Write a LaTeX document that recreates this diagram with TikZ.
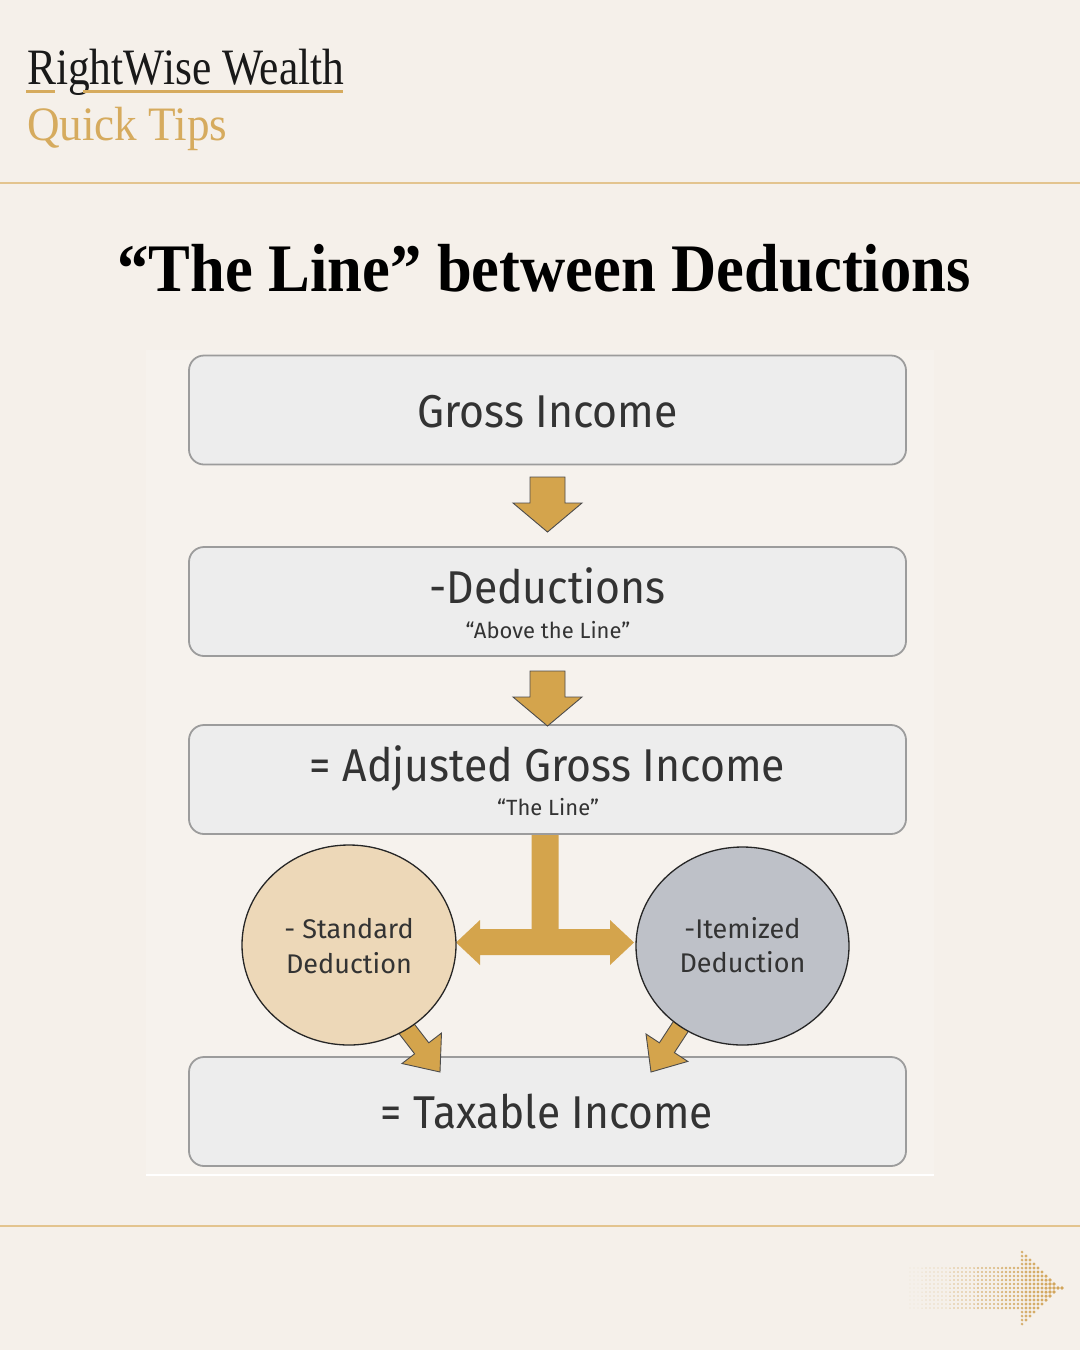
\documentclass[tikz,border=0pt]{standalone}
\usepackage{fontspec}
\setmainfont{Liberation Serif}
\newfontfamily\boxfont{Fira Sans}
\usetikzlibrary{shapes.geometric}
\definecolor{bg}{HTML}{F5F0EA}
\definecolor{panel}{HTML}{F6F2ED}
\definecolor{gold}{HTML}{D4A44C}
\definecolor{logogold}{HTML}{D6AB5E}
\definecolor{sepgold}{HTML}{E3C48F}
\definecolor{boxfill}{HTML}{EDEDED}
\definecolor{boxline}{HTML}{9C9C9C}
\definecolor{ink}{HTML}{333333}
\definecolor{stdfill}{HTML}{EDD8B8}
\definecolor{itmfill}{HTML}{BEC1C8}
\definecolor{dotc}{HTML}{D2A55A}
\begin{document}
\begin{tikzpicture}[x=1pt,y=-1pt,
  flowbox/.style={draw=boxline, line width=1.8pt, fill=boxfill, rounded corners=15pt,
    minimum width=717pt, minimum height=109pt, inner sep=0pt},
  bigtxt/.style={text=ink, inner sep=0pt, anchor=base, xscale=0.93, font=\boxfont\fontsize{46}{50}\selectfont},
  smalltxt/.style={text=ink, inner sep=0pt, anchor=base, font=\boxfont\fontsize{22}{26}\selectfont},
  circtxt/.style={text=ink, inner sep=0pt, anchor=base, font=\boxfont\fontsize{27}{31}\selectfont},
  bubble/.style={ellipse, draw=black!85, line width=1.3pt, inner sep=0pt},
  goldarrow/.style={fill=gold, draw=black!70, line width=0.9pt, line join=miter},
  sepline/.style={draw=sepgold, line width=1.5pt}]
\useasboundingbox (0,0) rectangle (1080,1350);
\fill[bg] (0,0) rectangle (1080,1350);
\fill[panel] (146,350) rectangle (934,1175);
\draw[white, line width=1.5pt] (146,1175) -- (934,1175);

% header
\node[anchor=base west, inner sep=0pt, xscale=0.852, text=black!90, font=\fontsize{51}{55}\selectfont] (brand) at (27,84) {RightWise Wealth};
\draw[logogold, line width=3pt] (26,91.5) -- (55,91.5) (83,91.5) -- (343,91.5);
\node[anchor=base west, inner sep=0pt, xscale=0.94, text=logogold, font=\fontsize{48}{52}\selectfont] (tips) at (27,140) {Quick Tips};
\draw[sepline] (0,183) -- (1080,183);
\draw[sepline] (0,1226) -- (1080,1226);

% title
\node[anchor=base, inner sep=0pt, xscale=0.92, text=black, font=\bfseries\fontsize{68}{72}\selectfont] (title) at (544,291) {“The Line” between Deductions};

% boxes
\node[flowbox] (gross) at (547.5,410) {};
\node[flowbox] (ded) at (547.5,601.5) {};
\node[flowbox] (agi) at (547.5,779.5) {};
\node[flowbox] (tax) at (547.5,1111.5) {};

\node[bigtxt] (t1) at (547.5,427) {Gross Income};
\node[bigtxt] (t2) at (547.5,603) {-Deductions};
\node[smalltxt] (t2b) at (548,638) {“Above the Line”};
\node[bigtxt] (t3) at (547.5,781) {= Adjusted Gross Income};
\node[smalltxt] (t3b) at (548,815) {“The Line”};
\node[bigtxt, xscale=0.995] (t4) at (547,1128) {= Taxable Income};

% down arrows
\path[goldarrow] (530,477) -- (565,477) -- (565,503) -- (582,503) -- (547.5,532) -- (513,503) -- (530,503) -- cycle;
\path[goldarrow] (530,671) -- (565,671) -- (565,697) -- (582,697) -- (547.5,726) -- (513,697) -- (530,697) -- cycle;

% T connector
\fill[gold] (531.5,835) -- (558.5,835) -- (558.5,929) -- (610,929) -- (610,920) -- (634,942.5) -- (610,965) -- (610,955) -- (480,955) -- (480,965) -- (456,942.5) -- (480,920) -- (480,929) -- (531.5,929) -- cycle;

% small diagonal arrows
\path[goldarrow] (390.2,1022.2) -- (404.4,1011.2) -- (428.8,1042.8) -- (441.5,1033) -- (440,1072) -- (402,1063.5) -- (414.6,1053.8) -- cycle;
\path[goldarrow] (696.3,1019.1) -- (681.3,1009.3) -- (659.4,1042.8) -- (646,1034) -- (651,1072) -- (687.8,1061.4) -- (674.4,1052.6) -- cycle;

% circles
\node[bubble, fill=stdfill, minimum width=214pt, minimum height=200pt] (std) at (349,945) {};
\node[bubble, fill=itmfill, minimum width=213pt, minimum height=198pt] (itm) at (742.5,946) {};
\node[circtxt] (s1) at (349,938) {- Standard};
\node[circtxt] (s2) at (349,973) {Deduction};
\node[circtxt] (i1) at (742.5,938) {-Itemized};
\node[circtxt] (i2) at (742.5,972) {Deduction};

% halftone arrow
\foreach \i in {0,...,38}{
  \foreach \j in {0,...,20}{
    \pgfmathsetmacro\xx{910+4*\i}
    \pgfmathsetmacro\yy{1248+4*\j}
    \pgfmathsetmacro\ins{((\xx<1019) && (abs(\yy-1288)<=22)) || ((\xx>=1019) && (abs(\yy-1288)<=(1062-\xx)*0.97))}
    \pgfmathsetmacro\rr{0.4+1.5*((\xx-910)/150)^1.1}
    \pgfmathsetmacro\op{0.45+0.55*((\xx-910)/150)}
    \ifdim\ins pt>0.5pt \fill[dotc, opacity=\op] (\xx,\yy) circle[radius=\rr pt]; \fi
  }
}
\end{tikzpicture}
\end{document}
